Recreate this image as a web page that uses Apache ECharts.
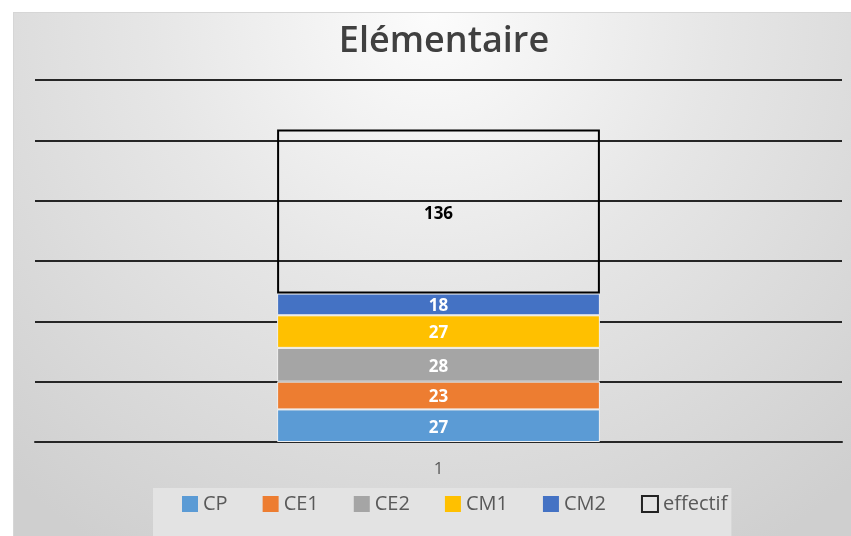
<!DOCTYPE html>
<html><head><meta charset="utf-8">
<script src="https://cdn.jsdelivr.net/npm/echarts@6/dist/echarts.min.js"></script>
<style>html,body{margin:0;padding:0;background:#fff}
#bg{position:absolute;left:13px;top:12px;width:838px;height:524px;box-sizing:border-box;border-left:1px solid #d6d6d6;border-top:1px solid #d6d6d6;
background:radial-gradient(ellipse 75% 120% at 50% 0%, #fcfcfc 0%, #e6e6e6 45%, #cfcfcf 100%);}
#c{position:absolute;left:0;top:0;width:851px;height:536px}</style>
</head><body><div id="bg"></div><div id="c"></div>
<script>
const categories = ['1'];
const seriesNames = ['CP','CE1','CE2','CM1','CM2','effectif'];
const CP = [27];
const CE1 = [23];
const CE2 = [28];
const CM1 = [27];
const CM2 = [18];
const effectif = [136];
const colors = ['#5B9BD5','#ED7D31','#A5A5A5','#FFC000','#4472C4'];
const values = [CP, CE1, CE2, CM1, CM2];
const font = '"Open Sans", sans-serif';

const chart = echarts.init(document.getElementById('c'));
const series = values.map((v,i)=>({
  name: seriesNames[i], type:'bar', stack:'s', data:v, barWidth:'40%',
  itemStyle:{color:colors[i], borderColor:'#f0f0f0', borderWidth:1},
  label:{show:true, position:'inside', offset:[0,2], color:'#fff', fontWeight:'bold', fontSize:17, fontFamily:font}
}));
series.push({
  name:'effectif', type:'bar', stack:'s', data:effectif, barWidth:'40%',
  itemStyle:{color:'rgba(0,0,0,0)', borderColor:'#000', borderWidth:2},
  label:{show:true, position:'inside', offset:[0,3], color:'#000', fontWeight:'bold', fontSize:17, fontFamily:font}
});
chart.setOption({
  animation:false,
  title:{text:'Elémentaire', left:439, textAlign:'center', top:19,
    textStyle:{fontFamily:font, fontSize:36, fontWeight:600, color:'#404040'}},
  grid:{left:35, right:9, top:80, bottom:94},
  legend:{data:seriesNames.map((n,i)=> i<5 ? {name:n, itemStyle:{color:colors[i], borderWidth:0}} : {name:n, itemStyle:{color:'rgba(0,0,0,0)', borderColor:'#222', borderWidth:2}}),
    left:153, top:488, padding:[6,4,40,29], itemGap:35, itemWidth:16, itemHeight:16,
    icon:'rect', backgroundColor:'#e3e3e3', textStyle:{fontFamily:font, fontSize:20, color:'#595959', padding:[0,0,0,0]}},
  xAxis:{type:'category', data:categories, axisLine:{lineStyle:{color:'#262626', width:2}}, axisTick:{show:false},
    axisLabel:{fontFamily:font, fontSize:17, color:'#595959', margin:19}},
  yAxis:{type:'value', min:0, max:300, interval:50, axisLabel:{show:false}, axisLine:{show:false}, axisTick:{show:false},
    splitLine:{lineStyle:{color:'#262626', width:2}}},
  series
});
</script></body></html>
